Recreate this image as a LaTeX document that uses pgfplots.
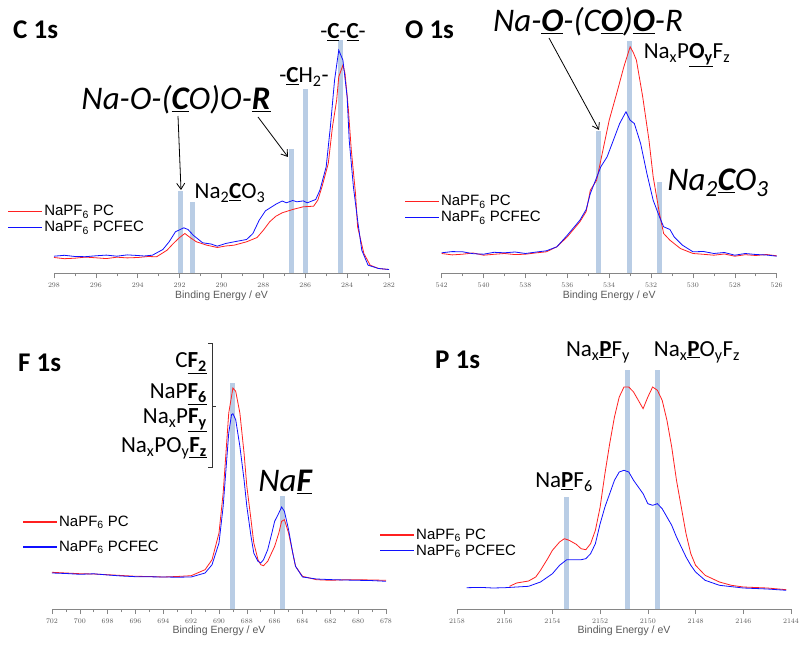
\documentclass[border=0pt]{standalone}
\usepackage{fontspec}
\setmainfont{Carlito}
\newfontfamily\arial{Liberation Sans}
\usepackage{pgfplots}
\pgfplotsset{compat=1.18}
\usetikzlibrary{arrows.meta}

\definecolor{barblue}{HTML}{B9CDE5}
\definecolor{axgray}{HTML}{868686}
\definecolor{lblgray}{HTML}{595959}
\definecolor{pcred}{HTML}{FF2020}
\definecolor{fecblue}{HTML}{1010FF}

% 1px of the reference = 1pt here
\newcommand{\pp}[2]{(#1pt,{648pt-#2pt})}
\newcommand{\ul}[1]{\underline{\textbf{#1}}}
\newcommand{\annfont}{\fontsize{23}{26}\selectfont}
\newcommand{\bigfont}{\fontsize{33}{36}\selectfont\itshape}
\newcommand{\hugefont}{\fontsize{33}{36}\selectfont\itshape}
\newcommand{\ttlfont}{\fontsize{27}{30}\selectfont\bfseries}

\pgfplotsset{
  panel/.style={
    scale only axis, clip=false,
    axis x line=bottom, axis y line=none,
    x dir=reverse, ymin=0,
    tick align=outside, major tick length=5pt, minor tick length=3pt,
    minor x tick num=1,
    axis line style={draw=axgray, line width=0.8pt, -},
    tick style={draw=axgray, line width=0.6pt},
    xticklabel style={font=\arial\fontsize{7.5}{8}\selectfont, text=lblgray, yshift=-1pt},
    /pgf/number format/set thousands separator={},
    xlabel={Binding Energy / eV},
    xlabel style={font=\arial\fontsize{10.5}{12}\selectfont, text=lblgray,
      at={(axis description cs:0.5,0)}, anchor=center, yshift=-22pt},
    legend style={draw=none, fill=none, inner sep=0pt,
      font=\arial\fontsize{15}{17}\selectfont, cells={anchor=west},
      legend image code/.code={\fill[##1, draw=none] (0pt,-0.55pt) rectangle (34pt,0.55pt);}},
    every axis plot/.append style={line width=0.8pt},
  },
  bars/.style={ycomb, draw=barblue, line width=5pt, forget plot},
}

\begin{document}
\begin{tikzpicture}
\useasboundingbox (0,0) rectangle (803pt,648pt);

% ---------------- C 1s ----------------
\begin{axis}[panel, at={(54pt,374.5pt)}, anchor=south west,
  width=335pt, height=240pt, xmin=282, xmax=298, ymax=240,
  xtick={282,284,...,298},
  legend style={at={(rel axis cs:-0.137,0.2251)}, anchor=west}]
\addplot[bars] coordinates {(291.95,82.7) (291.38,71) (286.67,124) (285.97,184) (284.3,233)};
\addplot[pcred] coordinates {
(298,16.0) (297.5,14.8) (297,15.3) (296.5,16.4) (296,15.7) (295.5,14.9) (295,16.3) (294.5,15.6)
(294,16.0) (293.5,17.0) (293.1,16.7) (292.6,23.3) (292.3,30) (292.0,36) (291.75,40) (291.5,36)
(291.2,31.7) (290.7,28.3) (290.2,26) (289.8,27.5) (289.4,28.3) (288.8,31.7) (288.3,36) (288.0,43.3)
(287.7,51.7) (287.4,57.3) (287.1,60.7) (286.6,64) (286.1,66.7) (285.6,67.3) (285.4,73.3) (285.2,86.7)
(284.9,110) (284.7,146.7) (284.5,173.3) (284.4,196.7) (284.2,208.3) (284.1,200) (283.95,166.7)
(283.8,123.3) (283.6,80) (283.5,46.7) (283.2,20) (282.9,8.3) (282.5,5) (282,4)};
\addlegendentry{NaPF\textsubscript{6} PC}
\addplot[fecblue] coordinates {
(298,17.3) (297.5,18.2) (297,17) (296.5,16.8) (296,17.7) (295.5,18.4) (295,17.3) (294.5,18.6)
(294,18) (293.7,17.5) (293.3,18.3) (292.8,24) (292.5,31.7) (292.2,41.7) (291.8,45.7) (291.6,44)
(291.35,38.3) (290.9,30.7) (290.5,29.5) (290.2,27.3) (289.8,30) (289.4,31.7) (288.8,34) (288.5,40)
(288.2,53.3) (287.9,62.7) (287.4,69.3) (287.1,72.5) (286.9,70.7) (286.6,73) (286.4,71.7) (286.1,72.6)
(285.9,70.7) (285.5,74) (285.3,83.3) (285.0,106.7) (284.8,146.7) (284.6,193.3) (284.4,223.3)
(284.2,213.3) (284.0,176.7) (283.9,133.3) (283.7,86.7) (283.5,53.3) (283.3,23.3) (283.0,8.3)
(282.5,5) (282,4)};
\addlegendentry{NaPF\textsubscript{6} PCFEC}
\end{axis}

% ---------------- O 1s ----------------
\begin{axis}[panel, at={(441.7pt,374.5pt)}, anchor=south west,
  width=335pt, height=240pt, xmin=526, xmax=542, ymax=240,
  xtick={526,528,...,542},
  legend style={at={(rel axis cs:-0.11,0.2671)}, anchor=west}]
\addplot[bars] coordinates {(534.5,142) (533.02,232) (531.6,91)};
\addplot[pcred] coordinates {
(542,20) (541.5,18.6) (541,19.3) (540.5,20.5) (540,18.3) (539.5,19.2) (539,20) (538.5,18.9)
(538,19.3) (537.5,20.6) (537,21.7) (536.5,26.7) (536.0,36.7) (535.4,51.7) (535.1,62) (534.9,83.3)
(534.6,93.3) (534.3,123.3) (534.0,153.3) (533.6,183.3) (533.3,206.7) (533.0,226.7) (532.85,221)
(532.7,213.3) (532.4,176.7) (532.1,133.3) (531.9,96.7) (531.6,60) (531.4,40) (531.1,33.3)
(530.6,25) (530.0,20) (529.5,19.2) (529,18.3) (528.5,19.5) (528,17.3) (527.5,18.8) (527,18) (526.5,19) (526,17.7)};
\addlegendentry{NaPF\textsubscript{6} PC}
\addplot[fecblue] coordinates {
(542,20.7) (541.5,21.9) (541,21.7) (540.5,19.8) (540,19.3) (539.5,21.2) (539,20.7) (538.5,21.5)
(538,20) (537.5,21.4) (537,22.7) (536.5,26.7) (536.0,38.3) (535.4,53.3) (535.1,64) (534.9,80)
(534.4,106.7) (534.1,116.7) (533.8,133.3) (533.5,150) (533.2,161.7) (533.0,153.3) (532.8,150)
(532.5,130) (532.2,100) (531.9,73.3) (531.6,56.7) (531.4,46.7) (531.1,44) (530.9,36.7)
(530.5,28.3) (530.0,21.7) (529.5,22) (529,20) (528.5,21) (528,18.3) (527.5,20) (527,19) (526.5,18.5) (526,17.3)};
\addlegendentry{NaPF\textsubscript{6} PCFEC}
\end{axis}

% ---------------- F 1s ----------------
\begin{axis}[panel, at={(52pt,39pt)}, anchor=south west,
  width=334pt, height=260pt, xmin=678, xmax=702, ymax=260,
  xtick={678,680,...,702},
  legend style={at={(rel axis cs:-0.087,0.2865)}, anchor=west, row sep=9pt}]
\addplot[bars] coordinates {(689.03,226) (685.43,113)};
\addplot[pcred] coordinates {
(702,36.7) (701,36) (700,35.3) (699,35) (698,34.3) (697,33.5) (696,32.7) (695,32.5) (694,32)
(693,32.5) (692,33.3) (691,39.3) (690.5,49.3) (690,76) (689.7,116) (689.5,156) (689.3,196)
(689.0,221) (688.8,217.7) (688.5,196) (688.2,156) (688.0,122.7) (687.7,89.3) (687.5,66)
(687.2,49.3) (687.0,44.3) (686.8,43.3) (686.5,47.7) (686.0,62.7) (685.7,76) (685.5,87.7)
(685.3,89.3) (685.0,76) (684.7,56) (684.5,42.7) (684.0,32.7) (683,29.3) (682,28.7) (681,29.2)
(680,29.3) (679,29) (678,28.7)};
\addlegendentry{NaPF\textsubscript{6} PC}
\addplot[fecblue] coordinates {
(702,36) (701,35.5) (700,34.7) (699,35.2) (698,34) (697,33) (696,32.3) (695,32.2) (694,32)
(693,31.8) (692,32) (691,36) (690.5,44.3) (690,66) (689.7,102.7) (689.5,139.3) (689.3,176)
(689.1,194.3) (689.0,195.3) (688.8,189.3) (688.5,162.7) (688.2,129.3) (688.0,102.7) (687.7,72.7)
(687.5,56) (687.2,47.7) (687.0,46) (686.8,49.3) (686.5,59.3) (686.2,76) (686.0,87.7) (685.7,96)
(685.5,102) (685.3,97.7) (685.0,79.3) (684.7,56) (684.5,42.7) (684.0,32) (683,30) (682,29.4)
(681,29) (680,28.7) (679,28.4) (678,27.7)};
\addlegendentry{NaPF\textsubscript{6} PCFEC}
\end{axis}

% ---------------- P 1s ----------------
\begin{axis}[panel, at={(457pt,39pt)}, anchor=south west,
  width=334pt, height=260pt, xmin=2144, xmax=2158, ymax=260,
  xtick={2144,2146,...,2158},
  legend style={at={(rel axis cs:-0.2305,0.254)}, anchor=west}]
\addplot[bars] coordinates {(2153.39,112) (2150.85,239) (2149.58,239)};
\addplot[pcred] coordinates {
(2155.8,22.7) (2155.5,26) (2155.0,28) (2154.7,32) (2154.5,38.7) (2154.2,50.3) (2154.0,58.7)
(2153.7,67) (2153.5,70.3) (2153.3,68.7) (2153.0,64.7) (2152.8,60.3) (2152.6,59.3) (2152.4,65.3)
(2152.2,78.7) (2152.0,102) (2151.8,135.3) (2151.6,165.3) (2151.4,192) (2151.2,212) (2151.0,222)
(2150.8,222) (2150.6,217) (2150.4,208.7) (2150.2,200.3) (2150.0,212) (2149.8,222) (2149.6,218.7)
(2149.4,208.7) (2149.2,188.7) (2149.0,162) (2148.8,128.7) (2148.6,102) (2148.4,75.3)
(2148.2,55.3) (2148.0,43.7) (2147.6,33.7) (2147.0,27) (2146.5,23.7) (2146.0,22) (2145.0,21)
(2144.2,19.3)};
\addlegendentry{NaPF\textsubscript{6} PC}
\addplot[fecblue] coordinates {
(2157.6,21.3) (2157,21.6) (2156.5,21) (2156.0,21.3) (2155.5,22) (2155.0,22.7) (2154.5,27)
(2154.0,35.3) (2153.7,43.7) (2153.4,49.3) (2153.0,49.3) (2152.8,49.3) (2152.6,50.3) (2152.4,55.3)
(2152.2,65.3) (2152.0,85.3) (2151.8,102) (2151.6,115.3) (2151.4,128.7) (2151.2,137) (2151.0,138.7)
(2150.8,137) (2150.6,128.7) (2150.4,122) (2150.2,115.3) (2150.0,105.3) (2149.8,103.7)
(2149.6,105.3) (2149.4,100.3) (2149.2,92) (2149.0,83.7) (2148.8,72) (2148.6,62) (2148.4,52)
(2148.2,43.7) (2148.0,37) (2147.6,28.7) (2147.0,23.7) (2146.0,21) (2145.0,20) (2144.2,18.7)};
\addlegendentry{NaPF\textsubscript{6} PCFEC}
\end{axis}

% ---------------- annotations ----------------
% C 1s
\node[anchor=west, inner sep=0pt] at \pp{13}{30} {\ttlfont C 1s};
\node[inner sep=0pt] at \pp{343}{32} {\annfont -\ul{C}-\ul{C}-};
\node[inner sep=0pt] at \pp{304}{77} {\annfont -\ul{C}H\textsubscript{2}-};
\node[inner sep=0pt] at \pp{176}{100} {\bigfont Na-O-(\ul{C}O)O-\ul{R}};
\node[inner sep=0pt] at \pp{230}{193} {\annfont Na\textsubscript{2}\ul{C}O\textsubscript{3}};
\draw[-{Straight Barb[length=6pt,width=8pt]}, line width=0.8pt] \pp{178}{116} -- \pp{181}{190};
\draw[-{Straight Barb[length=6pt,width=8pt]}, line width=0.8pt] \pp{258}{117} -- \pp{288}{157};
% O 1s
\node[anchor=west, inner sep=0pt] at \pp{405}{30} {\ttlfont O 1s};
\node[inner sep=0pt] at \pp{588}{22} {\bigfont Na-\ul{O}-(C\ul{O})\ul{O}-R};
\node[inner sep=0pt] at \pp{687}{55} {\annfont Na\textsubscript{x}P\ul{O\textsubscript{y}}F\textsubscript{z}};
\node[inner sep=0pt] at \pp{718}{183} {\hugefont Na\textsubscript{2}\ul{C}O\textsubscript{3}};
\draw[-{Straight Barb[length=6pt,width=8pt]}, line width=0.8pt] \pp{549}{38} -- \pp{599}{130};
% F 1s
\node[anchor=west, inner sep=0pt] at \pp{18}{363} {\ttlfont F 1s};
\node[anchor=east, inner sep=0pt] at \pp{207}{363} {\annfont C\ul{F\textsubscript{2}}};
\node[anchor=east, inner sep=0pt] at \pp{207}{394} {\annfont NaP\ul{F\textsubscript{6}}};
\node[anchor=east, inner sep=0pt] at \pp{207}{420} {\annfont Na\textsubscript{x}P\ul{F\textsubscript{y}}};
\node[anchor=east, inner sep=0pt] at \pp{207}{448} {\annfont Na\textsubscript{x}PO\textsubscript{y}\ul{F\textsubscript{z}}};
\draw[line width=0.8pt, black!80] \pp{208}{343} -- \pp{212}{343} -- \pp{212}{467} -- \pp{208}{467};
\draw[line width=0.8pt, black!80] \pp{212}{406} -- \pp{216}{406};
\node[inner sep=0pt] at \pp{285}{482} {\hugefont Na\ul{F}};
% P 1s
\node[anchor=west, inner sep=0pt] at \pp{435}{360} {\ttlfont P 1s};
\node[inner sep=0pt] at \pp{598}{352} {\annfont Na\textsubscript{x}\ul{P}F\textsubscript{y}};
\node[inner sep=0pt] at \pp{697}{352} {\annfont Na\textsubscript{x}\ul{P}O\textsubscript{y}F\textsubscript{z}};
\node[inner sep=0pt] at \pp{564}{482} {\annfont Na\ul{P}F\textsubscript{6}};
\end{tikzpicture}
\end{document}
